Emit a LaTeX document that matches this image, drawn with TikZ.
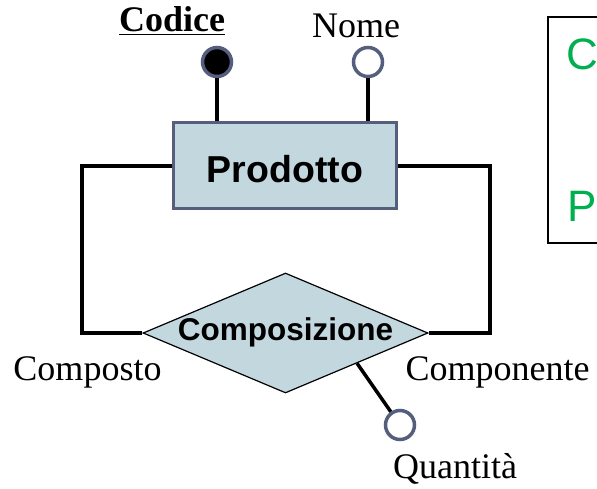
\documentclass[tikz,border=0pt]{standalone}
\usepackage{fontspec}
\setmainfont{Liberation Serif}
\setsansfont{Liberation Sans}
\usetikzlibrary{shapes.geometric}
\definecolor{erfill}{RGB}{195,215,223}
\definecolor{erborder}{RGB}{85,95,125}
\definecolor{ergreen}{RGB}{0,176,80}
\tikzset{
  entity/.style={draw=erborder,line width=3pt,fill=erfill,inner sep=0pt,
    minimum width=223pt,minimum height=86pt,text height=34pt,text depth=0pt,
    font=\sffamily\bfseries\fontsize{37.5}{37.5}\selectfont},
  relation/.style={diamond,draw=black,line width=1.2pt,fill=erfill,inner sep=0pt,
    aspect=2.375,minimum width=285pt,minimum height=120pt,text height=18pt,text depth=4pt,
    font=\sffamily\bfseries\fontsize{31.5}{31.5}\selectfont},
  attr/.style={circle,draw=erborder,line width=3.5pt,fill=white,minimum size=29pt,inner sep=0pt},
  keyattr/.style={attr,fill=black},
  link/.style={line width=3.5pt,black},
  lbl/.style={anchor=base,inner sep=0pt,font=\fontsize{36}{36}\selectfont}
}
\begin{document}
\begin{tikzpicture}[x=1pt,y=-1pt]
  \useasboundingbox (0,0) rectangle (597,489);
  \clip (0,0) rectangle (597,489);

  % entity, relationship
  \node[entity] (prod) at (285,166) {Prodotto};
  \node[relation] (comp) at (285.5,333) {Composizione};

  % attributes
  \node[keyattr] (cod) at (217,62) {};
  \node[attr] (nome) at (368,62) {};
  \node[attr] (qta) at (400,425) {};
  \node[lbl,font=\bfseries\fontsize{36}{36}\selectfont] (codlbl) at (172,32) {\underline{Codice}};
  \node[lbl] (nomelbl) at (356,38) {Nome};
  \node[lbl] (qtalbl) at (455,478) {Quantità};

  \draw[link] (cod) -- (cod |- prod.north);
  \draw[link] (nome) -- (nome |- prod.north);
  \draw[link] (comp.south east) -- (qta);

  % ring
  \draw[link] (prod.west) -- ++(-90,0) |- (comp.west);
  \draw[link] (prod.east) -- ++(92,0) |- (comp.east);
  \node[lbl] (rcomposto) at (87.5,380) {Composto};
  \node[lbl] (rcomponente) at (497.5,380) {Componente};

  % side box
  \draw[line width=2.5pt] (548,17) rectangle (640,243);
  \node[anchor=base west,inner sep=0pt,text=ergreen,font=\sffamily\fontsize{44}{44}\selectfont] (gc) at (566,70) {C};
  \node[anchor=base west,inner sep=0pt,text=ergreen,font=\sffamily\fontsize{44}{44}\selectfont] (gp) at (567,222) {P};
\end{tikzpicture}
\end{document}
